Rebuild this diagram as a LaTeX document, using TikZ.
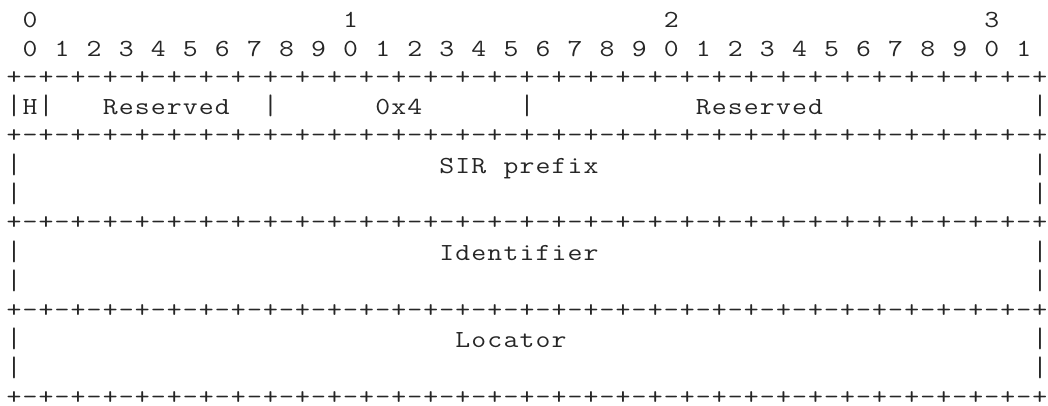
\documentclass[tikz,border=0pt]{standalone}
\usepackage{fontspec}
\usepackage{graphicx}
\newcommand\cellw{16.03}
\def\monoloop#1{\ifx#1\relax\else
  \ifx#1|\makebox[\cellw pt][c]{\scalebox{1.18}[1.15]{|}}%
  \else\makebox[\cellw pt][c]{\scalebox{1.18}[1]{#1}}\fi
  \expandafter\monoloop\fi}
\newcommand\rowy[1]{27.5+29.1*#1}
\newcommand\putc[4]{\node[txt] (#1) at ({6+\cellw*#2},{\rowy{#3}}) {\monoloop#4\relax};}
\newcommand\putb[2]{\node[txt] (#1) at ({6},{\rowy{#2}-1.5}) {\monoloop+-+-+-+-+-+-+-+-+-+-+-+-+-+-+-+-+-+-+-+-+-+-+-+-+-+-+-+-+-+-+-+-+\relax};}
\begin{document}
\begin{tikzpicture}[x=1pt,y=-1pt,
  txt/.style={anchor=base west, inner sep=0pt, outer sep=0pt,
    font=\ttfamily\fontsize{24.5}{28}\selectfont, text=black!85}]
\useasboundingbox (0,0) rectangle (1048,405);
% row 0: tens
\putc{t0}{1}{0}{0}
\putc{t1}{21}{0}{1}
\putc{t2}{41}{0}{2}
\putc{t3}{61}{0}{3}
% row 1: units
\foreach \i in {0,...,31}{
  \pgfmathtruncatemacro\dig{mod(\i,10)}
  \pgfmathtruncatemacro\col{1+2*\i}
  \putc{u\i}{\col}{1}{\dig}
}
% borders
\foreach \r in {2,4,7,10,13}{
  \putb{b\r}{\r}
}
% row 3
\putc{r3a}{0}{3}{|}
\putc{h}{1}{3}{H}
\putc{r3b}{2}{3}{|}
\putc{res1}{6}{3}{Reserved}
\putc{r3c}{16}{3}{|}
\putc{type}{23}{3}{0x4}
\putc{r3d}{32}{3}{|}
\putc{res2}{43}{3}{Reserved}
\putc{r3e}{64}{3}{|}
% SIR prefix
\putc{r5a}{0}{5}{|}
\putc{sir}{27}{5}{SIR~prefix}
\putc{r5b}{64}{5}{|}
\putc{r6a}{0}{6}{|}
\putc{r6b}{64}{6}{|}
% Identifier
\putc{r8a}{0}{8}{|}
\putc{ident}{27}{8}{Identifier}
\putc{r8b}{64}{8}{|}
\putc{r9a}{0}{9}{|}
\putc{r9b}{64}{9}{|}
% Locator
\putc{r11a}{0}{11}{|}
\putc{loc}{28}{11}{Locator}
\putc{r11b}{64}{11}{|}
\putc{r12a}{0}{12}{|}
\putc{r12b}{64}{12}{|}
\end{tikzpicture}
\end{document}
